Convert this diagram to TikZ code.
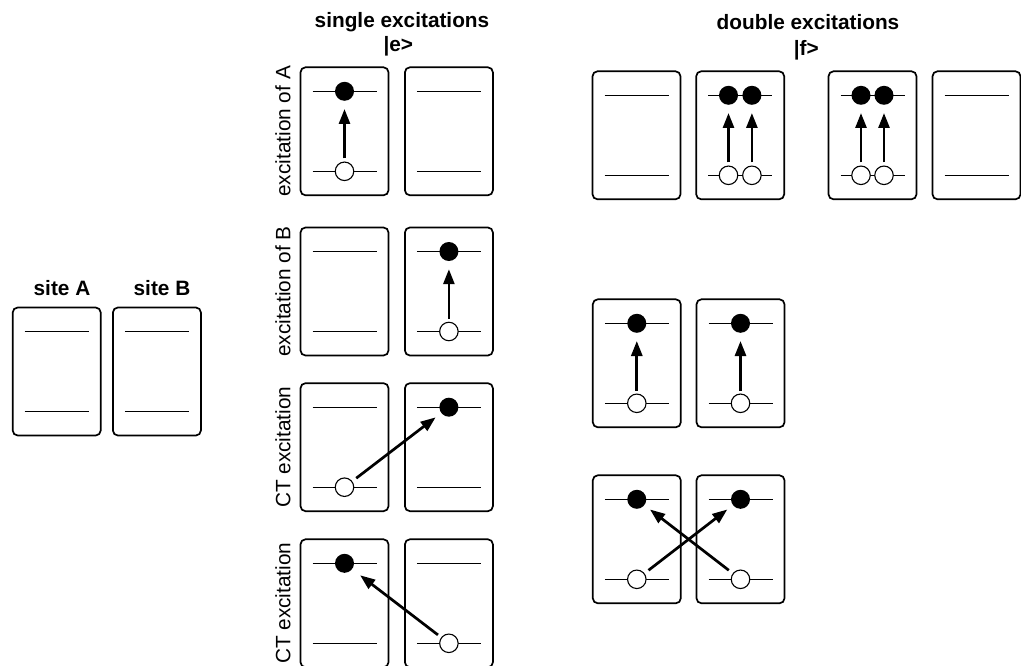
\documentclass[tikz,border=0pt]{standalone}
\usepackage{fontspec}
\setmainfont{Liberation Sans}
\usetikzlibrary{arrows.meta,calc}
\tikzset{
  site/.style={draw, line width=1.7pt, rounded corners=5pt, minimum width=88pt, minimum height=128pt, inner sep=0pt, outer sep=0pt},
  level/.style={line width=1.1pt},
  hole/.style={circle, draw, fill=white, line width=1.1pt, minimum size=18.5pt, inner sep=0pt},
  elec/.style={circle, fill=black, minimum size=19pt, inner sep=0pt},
  exc/.style={line width=2.7pt, -{Triangle[length=15pt 0,width=11pt 0]}, shorten <=3pt, shorten >=8pt},
  diag/.style={exc, shorten <=5pt, shorten >=7pt},
  title/.style={font=\bfseries\fontsize{20.8}{25}\selectfont, inner sep=0pt},
  side/.style={font=\fontsize{20.8}{25}\selectfont, rotate=90, inner sep=0pt},
}
\newcommand\sitebox[3]{%
  \node[site] (#1) at (#2,#3) {};
  \draw[level] (#2-32,#3-40) -- (#2+32,#3-40);
  \draw[level] (#2-32,#3+40) -- (#2+32,#3+40);
  \coordinate (#1hi) at (#2,#3-40);
  \coordinate (#1lo) at (#2,#3+40);
}
\begin{document}
\begin{tikzpicture}[x=1pt,y=-1pt]
\useasboundingbox (0,0) rectangle (1021,666);
% sites
\node[title] (tA) at (62,288.3) {site A};
\node[title] (tB) at (162,288.3) {site B};
\sitebox{sA}{56.7}{371.5}
\sitebox{sB}{156.9}{371.5}
% single excitations
\node[title] (tse) at (402,22) {single excitations};
\node[title] (tke) at (398.3,46) {|e>};
\node[side] (l1) at (283,131.3) {excitation of A};
\node[side] (l2) at (283,291.5) {excitation of B};
\node[side] (l3) at (283,447.2) {CT excitation};
\node[side] (l4) at (283,603.3) {CT excitation};
\sitebox{eA1}{344.5}{131.3}
\sitebox{eB1}{448.9}{131.3}
\sitebox{eA2}{344.5}{291.5}
\sitebox{eB2}{448.9}{291.5}
\sitebox{eA3}{344.5}{447.2}
\sitebox{eB3}{448.9}{447.2}
\sitebox{eA4}{344.5}{603.3}
\sitebox{eB4}{448.9}{603.3}
\node[hole] (h1) at (eA1lo) {};
\node[elec] (e1) at (eA1hi) {};
\draw[exc] (h1) -- (e1);
\node[hole] (h2) at (eB2lo) {};
\node[elec] (e2) at (eB2hi) {};
\draw[exc] (h2) -- (e2);
\node[hole] (h3) at (eA3lo) {};
\node[elec] (e3) at (eB3hi) {};
\draw[diag] (h3) -- (e3);
\node[hole] (h4) at (eB4lo) {};
\node[elec] (e4) at (eA4hi) {};
\draw[diag, shorten <=4pt, shorten >=10pt] (h4) -- (e4);
% double excitations
\node[title] (tde) at (808,22) {double excitations};
\node[title] (tkf) at (806.3,50) {|f>};
\sitebox{fA1}{636.5}{135.3}
\sitebox{fB1}{740.2}{135.3}
\sitebox{fA2}{872.5}{135.3}
\sitebox{fB2}{976.5}{135.3}
\node[hole] (dh1) at (728.5,175.3) {};
\node[hole] (dh2) at (751.9,175.3) {};
\node[elec] (de1) at (728.5,95.3) {};
\node[elec] (de2) at (751.9,95.3) {};
\draw[exc] (dh1) -- (de1);
\draw[exc] (dh2) -- (de2);
\node[hole] (dh3) at (861,175.3) {};
\node[hole] (dh4) at (884,175.3) {};
\node[elec] (de3) at (861,95.3) {};
\node[elec] (de4) at (884,95.3) {};
\draw[exc] (dh3) -- (de3);
\draw[exc] (dh4) -- (de4);
% both excited locally
\sitebox{gA}{636.8}{363.3}
\sitebox{gB}{740.5}{363.3}
\node[hole] (gh1) at (gAlo) {};
\node[elec] (ge1) at (gAhi) {};
\draw[exc] (gh1) -- (ge1);
\node[hole] (gh2) at (gBlo) {};
\node[elec] (ge2) at (gBhi) {};
\draw[exc] (gh2) -- (ge2);
% both CT
\sitebox{kA}{636.8}{539.3}
\sitebox{kB}{740.5}{539.3}
\node[hole] (kh1) at (kAlo) {};
\node[elec] (ke1) at (kAhi) {};
\node[hole] (kh2) at (kBlo) {};
\node[elec] (ke2) at (kBhi) {};
\draw[diag] (kh1) -- (ke2);
\draw[diag] (kh2) -- (ke1);
\end{tikzpicture}
\end{document}
